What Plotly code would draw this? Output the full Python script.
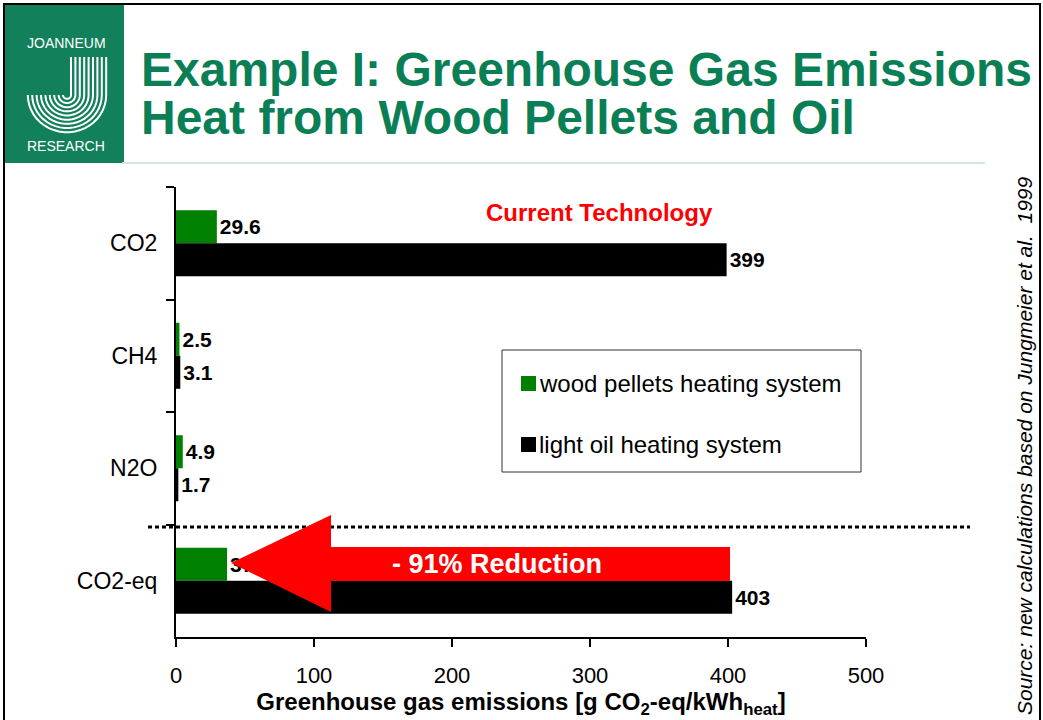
import numpy as np
import plotly.graph_objects as go

# ---------------- data ----------------
categories = ["CO2", "CH4", "N2O", "CO2-eq"]
wood_pellets = [29.6, 2.5, 4.9, 37]
light_oil = [399, 3.1, 1.7, 403]
x_ticks = [0, 100, 200, 300, 400, 500]
series_names = ["wood pellets heating system", "light oil heating system"]

FONT = "Liberation Sans, Arial, sans-serif"
GREEN_BAR = "#008000"
TITLE_GREEN = "#0A7F55"

W, H = 1043, 720
L, R, T, B = 176, 866, 187, 637  # plot area in pixels


def px(x):
    return (x - L) / (R - L)


def py(y):
    return (B - y) / (B - T)


fig = go.Figure()
fig.add_trace(go.Bar(
    y=categories, x=wood_pellets, orientation="h", name=series_names[0],
    marker=dict(color=GREEN_BAR, line=dict(width=0)),
    text=[f"{v:g}" for v in wood_pellets], textposition="outside",
    textfont=dict(family=FONT, size=21, color="black", weight="bold"),
    constraintext="none", cliponaxis=False, showlegend=False,
))
fig.add_trace(go.Bar(
    y=categories, x=light_oil, orientation="h", name=series_names[1],
    marker=dict(color="black", line=dict(width=0)),
    text=[f"{v:g}" for v in light_oil], textposition="outside",
    textfont=dict(family=FONT, size=21, color="black", weight="bold"),
    constraintext="none", cliponaxis=False, showlegend=False,
))

shapes = []
annotations = []

# slide border
shapes.append(dict(type="rect", xref="paper", yref="paper", x0=px(4), x1=px(1040), y0=py(4), y1=py(724),
                   line=dict(color="black", width=2), fillcolor="rgba(0,0,0,0)", layer="below"))
# logo box
shapes.append(dict(type="rect", xref="paper", yref="paper", x0=px(5), x1=px(124), y0=py(5), y1=py(163),
                   line=dict(width=0), fillcolor="#12805A", layer="above"))
# J stripes
cx, cy = 67, 95
for r in np.arange(4, 42, 4.4):
    pts = [(cx + r, 57), (cx + r, cy)]
    for a in np.linspace(0, np.pi, 24):
        pts.append((cx + r * np.cos(a), cy + r * np.sin(a) * 0.95))
    path = "M " + " L ".join(f"{px(x):.5f},{py(y):.5f}" for x, y in pts)
    shapes.append(dict(type="path", xref="paper", yref="paper", path=path,
                       line=dict(color="white", width=2), layer="above"))
annotations.append(dict(xref="paper", yref="paper", x=px(66), y=py(43), text="JOANNEUM", showarrow=False,
                        font=dict(family=FONT, size=14, color="white"), xanchor="center", yanchor="middle"))
annotations.append(dict(xref="paper", yref="paper", x=px(66), y=py(146), text="RESEARCH", showarrow=False,
                        font=dict(family=FONT, size=14, color="white"), xanchor="center", yanchor="middle"))

# title
annotations.append(dict(xref="paper", yref="paper", x=px(139), y=py(69), text="Example I: Greenhouse Gas Emissions",
                        showarrow=False, xanchor="left", yanchor="middle",
                        font=dict(family=FONT, size=48, color=TITLE_GREEN, weight="bold")))
annotations.append(dict(xref="paper", yref="paper", x=px(139), y=py(117), text="Heat from Wood Pellets and Oil",
                        showarrow=False, xanchor="left", yanchor="middle",
                        font=dict(family=FONT, size=48, color=TITLE_GREEN, weight="bold")))
# separator line
shapes.append(dict(type="line", xref="paper", yref="paper", x0=px(122), x1=px(985), y0=py(163), y1=py(163),
                   line=dict(color="#CFE7DD", width=2)))

# source text
annotations.append(dict(xref="paper", yref="paper", x=px(1024), y=py(446),
                        text="Source: new calculations based on Jungmeier et al.  1999",
                        showarrow=False, textangle=-90, xanchor="center", yanchor="middle",
                        font=dict(family=FONT, size=21, color="black", style="italic")))

# dotted separator
shapes.append(dict(type="line", xref="paper", yref="paper", x0=px(148), x1=px(970), y0=py(527), y1=py(527),
                   line=dict(color="black", width=3, dash="4px,3px")))

# red arrow
arrow = [(231, 563), (331, 515), (331, 547), (730, 547), (730, 581), (331, 581), (331, 612)]
path = "M " + " L ".join(f"{px(x):.5f},{py(y):.5f}" for x, y in arrow) + " Z"
shapes.append(dict(type="path", xref="paper", yref="paper", path=path, fillcolor="#FF0000",
                   line=dict(width=0), layer="above"))
annotations.append(dict(xref="paper", yref="paper", x=px(497), y=py(564), text="- 91% Reduction",
                        showarrow=False, xanchor="center", yanchor="middle",
                        font=dict(family=FONT, size=27, color="white", weight="bold")))

# current technology
annotations.append(dict(xref="paper", yref="paper", x=px(599), y=py(212), text="Current Technology",
                        showarrow=False, xanchor="center", yanchor="middle",
                        font=dict(family=FONT, size=24, color="#FF0000", weight="bold")))

# legend (drawn)
shapes.append(dict(type="rect", xref="paper", yref="paper", x0=px(502), x1=px(861), y0=py(350), y1=py(472),
                   line=dict(color="#333333", width=1), fillcolor="white", layer="above"))
for (y0, color, name) in [(376, GREEN_BAR, series_names[0]), (437, "black", series_names[1])]:
    shapes.append(dict(type="rect", xref="paper", yref="paper", x0=px(521), x1=px(536), y0=py(y0), y1=py(y0 + 15),
                       line=dict(width=0), fillcolor=color, layer="above"))
    annotations.append(dict(xref="paper", yref="paper", x=px(537), y=py(y0 + 7.5), text=name,
                            showarrow=False, xanchor="left", yanchor="middle",
                            font=dict(family=FONT, size=24, color="black")))

fig.update_layout(
    width=W, height=H,
    margin=dict(l=L, r=W - R, t=T, b=H - B, pad=0),
    paper_bgcolor="white", plot_bgcolor="white",
    barmode="group", bargap=0.413, bargroupgap=0,
    showlegend=False,
    font=dict(family=FONT, color="black"),
    shapes=shapes, annotations=annotations,
    xaxis=dict(range=[0, 500], tickvals=x_ticks, showgrid=False, zeroline=False,
               showline=True, linecolor="black", linewidth=2,
               ticks="outside", ticklen=8, tickwidth=2, tickcolor="black",
               tickfont=dict(family=FONT, size=22, color="black"), ticklabelstandoff=10,
               title=dict(text="Greenhouse gas emissions [g CO<sub>2</sub>-eq/kWh<sub>heat</sub>]",
                          font=dict(family=FONT, size=24, color="black", weight="bold"), standoff=2)),
    yaxis=dict(categoryorder="array", categoryarray=categories, autorange="reversed",
               showgrid=False, zeroline=False, showline=True, linecolor="black", linewidth=2,
               ticks="outside", ticklen=8, tickwidth=2, tickcolor="black", tickson="boundaries",
               tickfont=dict(family=FONT, size=23, color="black"), ticklabelstandoff=12),
)

fig.write_html("out.html", config={"displayModeBar": False},
               post_script="document.body.style.margin='0px';document.body.style.overflow='hidden';")
